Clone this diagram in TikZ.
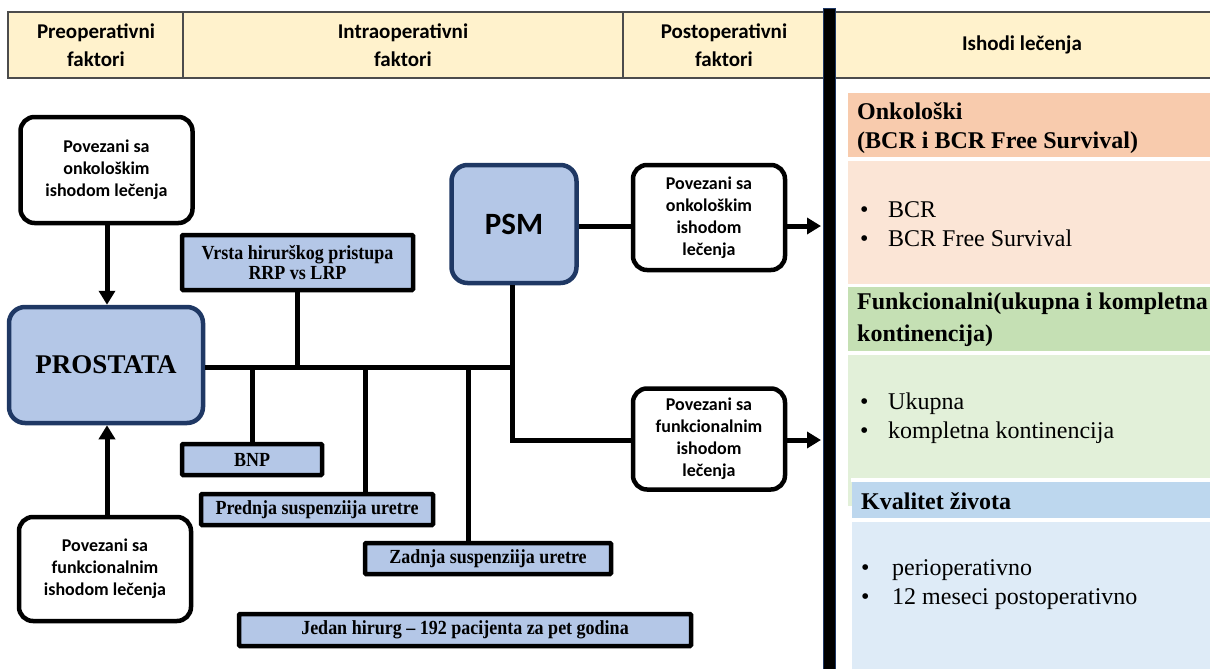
\documentclass[tikz,border=0pt]{standalone}
\usepackage{fontspec}
\setmainfont{Liberation Serif}
\newfontfamily\calfont{Carlito}
\newfontfamily\narrowfont[FakeStretch=0.9]{Liberation Serif}
\usetikzlibrary{arrows.meta}
\definecolor{hdr}{HTML}{FFF2CC}
\definecolor{boxblue}{HTML}{B4C7E7}
\definecolor{navy}{HTML}{1F3864}
\definecolor{orH}{HTML}{F8CBAD}
\definecolor{orB}{HTML}{FBE5D6}
\definecolor{grH}{HTML}{C5E0B4}
\definecolor{grB}{HTML}{E2F0D9}
\definecolor{blH}{HTML}{BDD7EE}
\definecolor{blB}{HTML}{DEEBF7}
\begin{document}
\begin{tikzpicture}[x=1pt,y=-1pt,
  hdrtext/.style={font=\calfont\bfseries\fontsize{21}{28}\selectfont, align=center},
  wbox/.style={draw=black, fill=white, line width=4.5pt, rounded corners=14pt, align=center,
    font=\calfont\bfseries\fontsize{18}{22}\selectfont, inner sep=0pt},
  mainbox/.style={draw=navy, fill=boxblue, line width=4.5pt, rounded corners=16pt, inner sep=0pt},
  fbox/.style={draw=black, fill=boxblue, line width=4.5pt, rounded corners=1pt, align=center, inner sep=0pt,
    font=\narrowfont\bfseries\fontsize{20}{20}\selectfont},
  conn/.style={line width=5pt, draw=black},
  arr/.style={line width=5pt, draw=black, -{Triangle[length=14pt,width=16pt]}},
  ptitle/.style={anchor=west, align=left, inner sep=0pt, font=\bfseries\fontsize{24}{29}\selectfont},
  bull/.style={anchor=west, align=left, inner sep=0pt, font=\fontsize{24}{29}\selectfont}
]
\useasboundingbox (0,0) rectangle (1210,669);
% header
\draw[fill=hdr, line width=1.2pt, draw=black!70] (8,12) rectangle (1214,78);
\draw[line width=1.2pt, draw=black!70] (183,12) -- (183,78) (623,12) -- (623,78);
\node[hdrtext] (h1) at (96,45) {Preoperativni\\faktori};
\node[hdrtext] (h2) at (403,45) {Intraoperativni\\faktori};
\node[hdrtext] (h3) at (724,45) {Postoperativni\\faktori};
\node[hdrtext] (h4) at (1022,45) {Ishodi lečenja};
% right panels
\fill[orH] (848,93) rectangle (1210,157);
\fill[orB] (848,161) rectangle (1210,284);
\fill[grH] (848,287) rectangle (1210,351);
\fill[grB] (848,355) rectangle (1210,506);
\fill[white] (851,478) rectangle (1210,482);
\fill[blH] (852,482) rectangle (1210,518);
\fill[white] (852,518) rectangle (1210,522);
\fill[blB] (852,522) rectangle (1210,669);
\node[ptitle] (t1) at (857,128) {Onkološki\\(BCR i BCR Free Survival)};
\node[bull] (b1) at (860,224) {\makebox[28pt][l]{\textbullet}BCR\\\makebox[28pt][l]{\textbullet}BCR Free Survival};
\node[ptitle, font=\bfseries\fontsize{24}{32}\selectfont] (t2) at (857,320) {Funkcionalni(ukupna i kompletna\\kontinencija)};
\node[bull] (b2) at (860,418) {\makebox[28pt][l]{\textbullet}Ukupna\\\makebox[28pt][l]{\textbullet}kompletna kontinencija};
\node[ptitle] (t3) at (861,501) {Kvalitet života};
\node[bull] (b3) at (861,585) {\makebox[31pt][l]{\textbullet}perioperativno\\\makebox[31pt][l]{\textbullet}12 meseci postoperativno};
% bar
\fill[black] (823,8) rectangle (835,669);
\draw[line width=0.8pt, draw=navy] (823,8) rectangle (835,672);
% left side
\node[wbox, minimum width=172pt, minimum height=106pt] (oL) at (106.5,170) {Povezani sa\\onkološkim\\ishodom lečenja};
\node[mainbox, minimum width=194pt, minimum height=116pt, font=\bfseries\fontsize{27}{27}\selectfont] (pr) at (106,365) {PROSTATA};
\node[wbox, minimum width=172pt, minimum height=104pt] (fL) at (105,569) {Povezani sa\\funkcionalnim\\ishodom lečenja};
\draw[arr] (oL.south -| 107,0) -- (pr.north -| 107,0);
\draw[arr] (fL.north -| 107,0) -- (pr.south -| 107,0);
% intra
\node[fbox, minimum width=231pt, minimum height=55pt] (vr) at (297.5,262.5) {Vrsta hirurškog pristupa\\RRP vs LRP};
\node[fbox, minimum width=140pt, minimum height=31pt] (bnp) at (252,459.5) {BNP};
\node[fbox, minimum width=232pt, minimum height=31pt] (pre) at (317,509.5) {Prednja suspenziija uretre};
\node[fbox, minimum width=246pt, minimum height=31pt] (zad) at (488,558.5) {Zadnja suspenziija uretre};
\node[fbox, minimum width=452pt, minimum height=32pt] (jed) at (465,630) {Jedan hirurg – 192 pacijenta za pet godina};
\node[mainbox, minimum width=125pt, minimum height=118pt, font=\calfont\bfseries\fontsize{31}{31}\selectfont] (psm) at (514,224) {PSM};
\node[wbox, minimum width=152pt, minimum height=105pt] (oR) at (709,217.5) {Povezani sa\\onkološkim\\ishodom\\lečenja};
\node[wbox, minimum width=152pt, minimum height=101pt] (fR) at (709,439) {Povezani sa\\funkcionalnim\\ishodom\\lečenja};
\coordinate (J) at (512,367);
\coordinate (dB) at (252,367);
\coordinate (dP) at (365,367);
\coordinate (dZ) at (468,367);
\coordinate (e1) at (821,226);
\coordinate (e2) at (821,440);
\draw[conn] (pr.east |- J) -- (J);
\draw[conn] (vr.south) -- (vr.south |- J);
\draw[conn] (dB) -- (dB |- bnp.north);
\draw[conn] (dP) -- (dP |- pre.north);
\draw[conn] (dZ) -- (dZ |- zad.north);
\draw[conn] (psm.south -| J) -- (J) -- (J |- e2) -- (fR.west |- e2);
\draw[conn] (psm.east |- e1) -- (oR.west |- e1);
\draw[arr] (oR.east |- e1) -- (e1);
\draw[arr] (fR.east |- e2) -- (e2);
\end{tikzpicture}
\end{document}
